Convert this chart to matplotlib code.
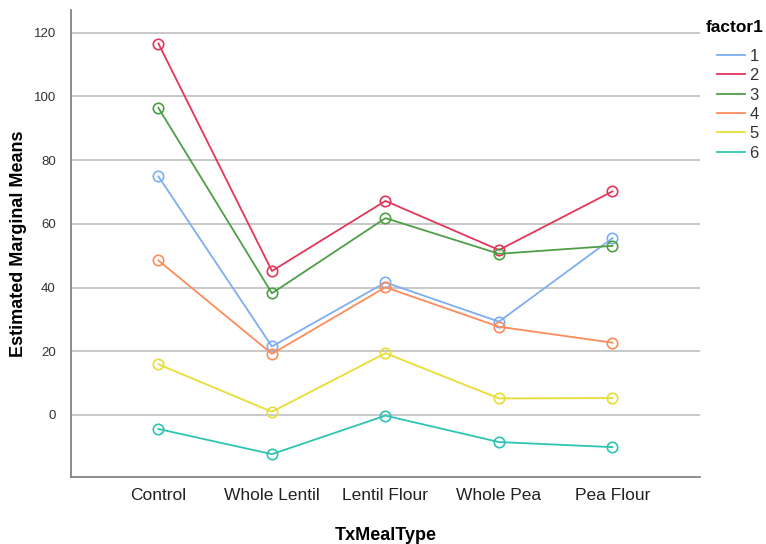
import matplotlib
matplotlib.use("Agg")
import matplotlib.pyplot as plt

# Condensed sans for the labels, falling back to Liberation Sans
fams = ["Liberation Sans Narrow", "Liberation Sans", "DejaVu Sans"]
plt.rcParams["font.family"] = fams

categories = ["Control", "Whole Lentil", "Lentil Flour", "Whole Pea", "Pea Flour"]
series_names = ["1", "2", "3", "4", "5", "6"]
factor1_1 = [74.9, 21.5, 41.6, 29.3, 55.5]
factor1_2 = [116.6, 45.2, 67.2, 51.8, 70.2]
factor1_3 = [96.4, 38.2, 61.8, 50.6, 53.1]
factor1_4 = [48.5, 19.2, 40.1, 27.7, 22.7]
factor1_5 = [15.9, 1.0, 19.4, 5.2, 5.3]
factor1_6 = [-4.4, -12.3, -0.2, -8.5, -10.1]
y_ticks = [0, 20, 40, 60, 80, 100, 120]

colors = ["#7eaef0", "#e2365a", "#4f9e47", "#ff8b5c", "#e8dd35", "#2ec4b1"]
values = [factor1_1, factor1_2, factor1_3, factor1_4, factor1_5, factor1_6]

W, H = 766, 544
fig = plt.figure(figsize=(W / 100, H / 100), dpi=100)
ax = fig.add_axes([0.0927, 0.123, 0.821, 0.859])

x = list(range(len(categories)))
for name, vals, c in zip(series_names, values, colors):
    ax.plot(x, vals, color=c, lw=1.3, marker="o", markersize=7.5,
            markerfacecolor="none", markeredgecolor=c, markeredgewidth=1.2,
            label=name, zorder=3)

ax.set_xlim(-0.77, 4.77)
ax.set_ylim(-19.5, 127.2)
ax.set_xticks(x)
ax.set_xticklabels(categories, fontsize=12.5, color="#222222")
ax.set_yticks(y_ticks)
ax.set_yticklabels([str(v) for v in y_ticks], fontsize=9.5, color="#333333")
ax.tick_params(axis="both", length=0, pad=8)
ax.tick_params(axis="y", pad=11)

ax.grid(axis="y", color="#c8c8c8", lw=1.4, zorder=1)
ax.set_axisbelow(True)
for s in ["top", "right"]:
    ax.spines[s].set_visible(False)
for s in ["left", "bottom"]:
    ax.spines[s].set_color("#7a7a7a")
    ax.spines[s].set_linewidth(1.2)

ax.set_xlabel("TxMealType", fontsize=13, fontweight="bold", labelpad=17)
ax.set_ylabel("Estimated Marginal Means", fontsize=13, fontweight="bold", labelpad=5,
              family=["Liberation Sans", "DejaVu Sans"])

# Legend title and entries to the right of the plot area
fig.text(764 / W, 1 - 27 / H, "factor1", fontsize=12.5, fontweight="bold",
         ha="right", va="center", family=["Liberation Sans", "DejaVu Sans"])
handles = [plt.Line2D([], [], color=c, lw=1.3) for c in colors]
leg = fig.legend(handles, series_names, loc="upper left",
                 bbox_to_anchor=(717 / W, 1 - 49 / H), frameon=False, fontsize=12,
                 handlelength=1.65, handletextpad=0.3, labelspacing=0.26,
                 borderpad=0.0, borderaxespad=0.0)
for t in leg.get_texts():
    t.set_color("#333333")

fig.savefig("out.png", dpi=100)
